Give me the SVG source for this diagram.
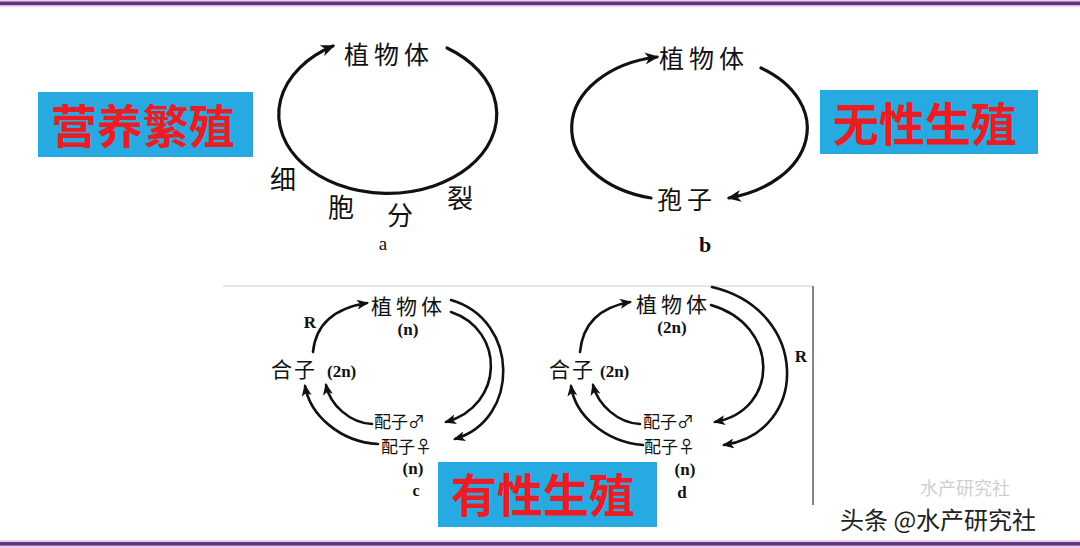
<svg xmlns="http://www.w3.org/2000/svg" width="1080" height="548" viewBox="0 0 1080 548">
<style>
.cj{font-family:"Noto Sans CJK SC","Noto Sans",sans-serif;fill:#111}
.lt{font-family:"Liberation Serif","DejaVu Serif",serif;font-weight:bold;fill:#111}
.big{font-family:"Noto Sans CJK SC",sans-serif;font-weight:bold;fill:#ec1c24;font-size:46px}
.box{fill:#27a9e1}
.arc{fill:none;stroke:#111;stroke-linecap:round}
.w3{stroke-width:3.2}
.w2{stroke-width:2.6}
</style>
<defs>
<marker id="ah" markerUnits="userSpaceOnUse" markerWidth="16" markerHeight="12" refX="12" refY="6" orient="auto">
<path d="M0,0 L14,6 L0,12 L4,6 Z" fill="#111"/>
</marker>
<marker id="ah2" markerUnits="userSpaceOnUse" markerWidth="14" markerHeight="10" refX="10" refY="5" orient="auto">
<path d="M0,0 L12,5 L0,10 L3,5 Z" fill="#111"/>
</marker>
</defs>
<rect width="1080" height="548" fill="#ffffff"/>
<g id="frame">
<rect x="0" y="0" width="1080" height="7" fill="#f0cdf0"/>
<rect x="0" y="1.5" width="1080" height="3.6" fill="#5a3a7a"/>
<rect x="0" y="540" width="1080" height="8" fill="#f0cdf0"/>
<rect x="0" y="542" width="1080" height="3.6" fill="#5a3a7a"/>
<line x1="223" y1="286" x2="813" y2="286" stroke="#d0d0d0" stroke-width="1.2"/>
<line x1="813" y1="286" x2="813" y2="505" stroke="#666" stroke-width="1.6"/>
</g>
<g id="connectors">
<path class="arc w3" d="M447 48 A109 79 0 1 1 333 46" marker-end="url(#ah)"/>
<path class="arc w3" d="M761 68 A103 72 0 0 1 729 198" marker-end="url(#ah)"/>
<path class="arc w3" d="M651 198 A103 72 0 0 1 657 57" marker-end="url(#ah)"/>
<path class="arc w2" d="M313 352 Q317 311 367 303" marker-end="url(#ah2)"/>
<path class="arc w2" d="M451 300 C520 320 520 420 455 439" marker-end="url(#ah2)"/>
<path class="arc w2" d="M451 312 C505 330 505 405 446 422" marker-end="url(#ah2)"/>
<path class="arc w2" d="M378 444 C340 442 310 415 305 386" marker-end="url(#ah2)"/>
<path class="arc w2" d="M372 424 C350 423 330 405 326 385" marker-end="url(#ah2)"/>
<path class="arc w2" d="M580 352 Q584 310 630 302" marker-end="url(#ah2)"/>
<path class="arc w2" d="M712 287 C810 310 810 432 724 445" marker-end="url(#ah2)"/>
<path class="arc w2" d="M711 305 C780 325 780 410 715 422" marker-end="url(#ah2)"/>
<path class="arc w2" d="M643 445 C605 442 575 415 571 386" marker-end="url(#ah2)"/>
<path class="arc w2" d="M640 424 C618 423 598 405 593 385" marker-end="url(#ah2)"/>
</g>
<g id="label-vegetative">
<rect class="box" x="38" y="92" width="215" height="65"/>
<text class="big" x="143" y="143" text-anchor="middle">营养繁殖</text>
</g>
<g id="label-asexual">
<rect class="box" x="820" y="90" width="218" height="64"/>
<text class="big" x="925" y="141" text-anchor="middle">无性生殖</text>
</g>
<g id="label-sexual">
<rect class="box" x="438" y="462" width="219" height="65"/>
<text class="big" x="543" y="512" text-anchor="middle">有性生殖</text>
</g>
<g id="node-a-plant"><text class="cj" x="344" y="64" font-size="25" letter-spacing="5">植物体</text></g>
<g id="node-a-division">
<text class="cj" x="270" y="189" font-size="26">细</text>
<text class="cj" x="328" y="217" font-size="26">胞</text>
<text class="cj" x="387" y="225" font-size="26">分</text>
<text class="cj" x="447" y="208" font-size="26">裂</text>
<text class="lt" x="383" y="250" font-size="19" text-anchor="middle" style="font-weight:normal">a</text>
</g>
<g id="node-b-plant"><text class="cj" x="659" y="68" font-size="25" letter-spacing="5">植物体</text></g>
<g id="node-b-spore"><text class="cj" x="657" y="209" font-size="25" letter-spacing="5">孢子</text>
<text class="lt" x="705" y="252" font-size="22" text-anchor="middle">b</text></g>
<g id="node-c-plant">
<text class="cj" x="371" y="314" font-size="21" letter-spacing="4">植物体</text>
<text class="lt" x="408" y="335" font-size="17" text-anchor="middle">(n)</text>
<text class="lt" x="310" y="328" font-size="17" text-anchor="middle">R</text>
</g>
<g id="node-c-zygote"><text class="cj" x="271" y="377" font-size="21" letter-spacing="2">合子</text><text class="lt" x="327" y="377" font-size="17">(2n)</text></g>
<g id="node-c-gametes">
<text class="cj" x="374" y="428" font-size="17">配子♂</text>
<text class="cj" x="381" y="453" font-size="17">配子♀</text>
<text class="lt" x="413" y="474" font-size="17" text-anchor="middle">(n)</text>
<text class="lt" x="416" y="496" font-size="16" text-anchor="middle">c</text>
</g>
<g id="node-d-plant">
<text class="cj" x="636" y="312" font-size="21" letter-spacing="4">植物体</text>
<text class="lt" x="672" y="333" font-size="17" text-anchor="middle">(2n)</text>
<text class="lt" x="801" y="362" font-size="17" text-anchor="middle">R</text>
</g>
<g id="node-d-zygote"><text class="cj" x="549" y="377" font-size="21" letter-spacing="2">合子</text><text class="lt" x="600" y="377" font-size="17">(2n)</text></g>
<g id="node-d-gametes">
<text class="cj" x="643" y="428" font-size="17">配子♂</text>
<text class="cj" x="644" y="453" font-size="17">配子♀</text>
<text class="lt" x="685" y="475" font-size="17" text-anchor="middle">(n)</text>
<text class="lt" x="682" y="498" font-size="17" text-anchor="middle">d</text>
</g>
<g id="watermark">
<text class="cj" x="920" y="495" font-size="18" style="fill:#cfcfcf">水产研究社</text>
<text class="cj" x="840" y="529" font-size="24" style="fill:#222">头条 @水产研究社</text>
</g>
</svg>
